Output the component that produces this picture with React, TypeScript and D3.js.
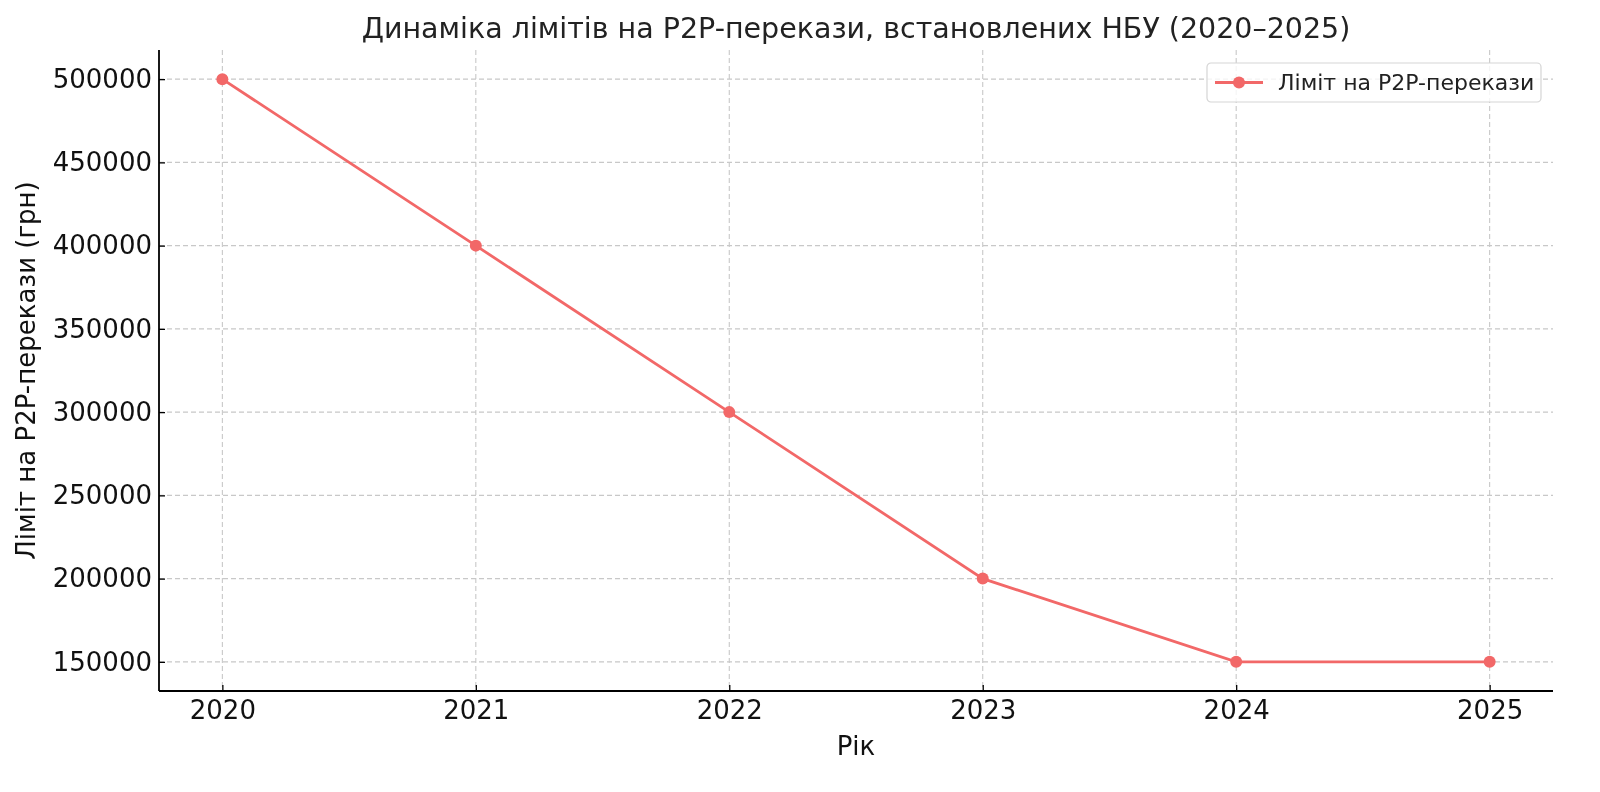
import { useRef, useEffect } from 'react'
import * as d3 from 'd3'

const years: number[] = [2020, 2021, 2022, 2023, 2024, 2025]
const limits: number[] = [500000, 400000, 300000, 200000, 150000, 150000]
const yTicks: number[] = [150000, 200000, 250000, 300000, 350000, 400000, 450000, 500000]

const title = 'Динаміка лімітів на P2P-перекази, встановлених НБУ (2020–2025)'
const xLabel = 'Рік'
const yLabel = 'Ліміт на P2P-перекази (грн)'
const seriesName = 'Ліміт на P2P-перекази'

export default function App() {
  const svgRef = useRef(null)

  const width: number = 1600
  const height: number = 792
  const left = 159
  const right = 1553
  const top = 50
  const bottom = 691
  const color = '#f26868'
  const font = 'DejaVu Sans, sans-serif'

  useEffect(() => {
    const svg = d3.select(svgRef.current)
    svg.selectAll('*').remove()

    // scales with matplotlib-like 5% margins
    const x = d3.scaleLinear().domain([2019.75, 2025.25]).range([left, right])
    const y = d3.scaleLinear().domain([132500, 517500]).range([bottom, top])

    // grid
    svg.append('g').selectAll('line')
      .data(years).enter().append('line')
      .attr('x1', d => x(d)).attr('x2', d => x(d))
      .attr('y1', top).attr('y2', bottom)
      .attr('stroke', '#c8c8c8').attr('stroke-width', 1.1)
      .attr('stroke-dasharray', '5,3')
    svg.append('g').selectAll('line')
      .data(yTicks).enter().append('line')
      .attr('x1', left).attr('x2', right)
      .attr('y1', d => y(d)).attr('y2', d => y(d))
      .attr('stroke', '#c8c8c8').attr('stroke-width', 1.1)
      .attr('stroke-dasharray', '5,3')

    // axes (inward ticks)
    const xAxis = svg.append('g')
      .attr('transform', `translate(0,${bottom})`)
      .call(d3.axisBottom(x).tickValues(years).tickFormat(d3.format('d')).tickSizeInner(-6).tickSizeOuter(0).tickPadding(10))
    const yAxis = svg.append('g')
      .attr('transform', `translate(${left},0)`)
      .call(d3.axisLeft(y).tickValues(yTicks).tickFormat(d3.format('d')).tickSizeInner(-6).tickSizeOuter(0).tickPadding(7))
    for (const ax of [xAxis, yAxis]) {
      ax.select('.domain').attr('stroke', '#000').attr('stroke-width', 1.8)
      ax.selectAll('.tick line').attr('stroke', '#000').attr('stroke-width', 1.3)
      ax.selectAll('.tick text')
        .attr('font-family', font).attr('font-size', 26).attr('fill', '#111')
    }
    xAxis.select('.domain').attr('d', `M${left},0H${right}`)
    yAxis.select('.domain').attr('d', `M0,${top}V${bottom}`)

    // line + markers
    const line = d3.line<number>()
      .x((d, i) => x(years[i]))
      .y(d => y(d))
    svg.append('path')
      .datum(limits)
      .attr('d', line)
      .attr('fill', 'none')
      .attr('stroke', color)
      .attr('stroke-width', 2.8)
    svg.append('g').selectAll('circle')
      .data(limits).enter().append('circle')
      .attr('cx', (d, i) => x(years[i]))
      .attr('cy', d => y(d))
      .attr('r', 6)
      .attr('fill', color)

    // title and labels
    svg.append('text')
      .attr('x', (left + right) / 2).attr('y', 38)
      .attr('text-anchor', 'middle')
      .attr('font-family', font).attr('font-size', 28.5).attr('fill', '#222')
      .text(title)
    svg.append('text')
      .attr('x', (left + right) / 2).attr('y', 755)
      .attr('text-anchor', 'middle')
      .attr('font-family', font).attr('font-size', 26).attr('fill', '#111')
      .text(xLabel)
    svg.append('text')
      .attr('transform', `translate(35,${(top + bottom) / 2}) rotate(-90)`)
      .attr('text-anchor', 'middle')
      .attr('font-family', font).attr('font-size', 26).attr('fill', '#111')
      .text(yLabel)

    // legend
    const lg = svg.append('g').attr('transform', 'translate(1207,63)')
    lg.append('rect')
      .attr('width', 334).attr('height', 39).attr('rx', 4)
      .attr('fill', 'white').attr('fill-opacity', 0.8)
      .attr('stroke', '#d5d5d5').attr('stroke-width', 1.2)
    lg.append('line')
      .attr('x1', 8).attr('x2', 56).attr('y1', 19.5).attr('y2', 19.5)
      .attr('stroke', color).attr('stroke-width', 2.8)
    lg.append('circle')
      .attr('cx', 32).attr('cy', 19.5).attr('r', 6).attr('fill', color)
    lg.append('text')
      .attr('x', 71).attr('y', 27)
      .attr('font-family', font).attr('font-size', 22).attr('fill', '#222')
      .text(seriesName)
  }, [])

  return (
    <svg ref={svgRef} width={width} height={height} style={{ display: 'block', position: 'fixed', left: 0, top: 0 }} />
  )
}
